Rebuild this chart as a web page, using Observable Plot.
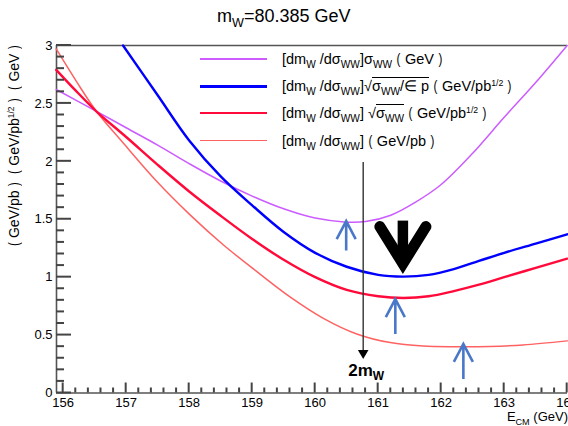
<!DOCTYPE html>
<html><head><meta charset="utf-8">
<script src="https://cdn.jsdelivr.net/npm/d3@7"></script>
<script src="https://cdn.jsdelivr.net/npm/@observablehq/plot@0.6"></script>
<style>
body{margin:0;background:#fff;}
#wrap{position:relative;width:568px;height:426px;overflow:hidden;font-family:"Liberation Sans",Arial,Helvetica,sans-serif;color:#000;}
#wrap svg{position:absolute;left:0;top:0;}
.ov{position:absolute;white-space:nowrap;}
sub{font-size:0.7em;vertical-align:-0.4em;line-height:0;}
sup{font-size:0.6em;vertical-align:0.6em;line-height:0;}
.sq{border-top:1px solid #000;}
.leg{position:absolute;left:282px;font-size:14.5px;line-height:20px;white-space:nowrap;}
.sw{position:absolute;left:200px;width:67px;}
</style></head><body><div id="wrap"></div>
<script>
// ---- data ----
const magE = [155.89,156.5,157.0,157.5,158.0,158.5,159.0,159.5,160.0,160.5,160.8,161.2,161.6,162.0,162.5,163.0,163.5,164.0];
const magV = [2.62,2.44,2.29,2.14,1.98,1.83,1.70,1.59,1.51,1.475,1.48,1.535,1.65,1.80,2.07,2.38,2.68,3.0];
const bluE = [156.95,157.5,158.0,158.5,159.0,159.5,160.0,160.5,161.0,161.4,161.8,162.2,162.6,163.0,163.5,164.0];
const bluV = [3.0,2.57,2.18,1.87,1.62,1.39,1.21,1.09,1.02,1.005,1.02,1.07,1.14,1.21,1.29,1.37];
const redE = [155.89,156.2,156.53,157.0,157.5,158.0,158.5,159.0,159.5,160.0,160.5,161.0,161.4,161.8,162.2,162.6,163.0,163.5,164.0];
const redV = [2.79,2.61,2.43,2.21,1.97,1.74,1.53,1.33,1.15,1.0,0.89,0.835,0.82,0.835,0.88,0.935,1.0,1.08,1.16];
const salE = [155.89,156.21,156.53,156.95,157.48,158.01,158.54,159.07,159.60,160.13,160.66,161.19,161.71,162.24,162.77,163.30,164.0];
const salV = [2.97,2.69,2.43,2.16,1.83,1.54,1.28,1.05,0.83,0.645,0.51,0.435,0.405,0.40,0.402,0.415,0.45];

const xTicks = [156,157,158,159,160,161,162,163,164];
const yTicks = [0,0.5,1,1.5,2,2.5,3];
const xMinorTicks = d3.range(0, 41).filter(i => i % 5).map(i => 156 + i * 0.2);
const yMinorTicks = d3.range(0, 31).filter(i => i % 5).map(i => i * 0.1);
const xMin = 155.894, xMax = 164.005;

const mW = 80.385;
const thresholdArrow = {E: 2*mW, top: 1.99, tip: 0.29};
const blueArrowE = [160.50, 161.28, 162.36];
const blueArrowTail = [1.225, 0.505, 0.117];
const blueArrowTip = [1.48, 0.807, 0.419];
const bigArrow = {E: 161.40, top: 1.484, tip: 1.018};

const colMag = "#cc5cff", colBlu = "#0000ff", colRed = "#ff0a3a", colSal = "#ff6262", colArr = "#4a78c8";

const mk = (E, V) => E.map((e, i) => ({E: e, v: V[i]}));

const W = 568, H = 426, mL = 56, mR = 1, mT = 45, mB = 33.5;

const NS = "http://www.w3.org/2000/svg";
function el(parent, tag, attrs) {
  const n = document.createElementNS(NS, tag);
  for (const k in attrs) n.setAttribute(k, attrs[k]);
  parent.appendChild(n);
  return n;
}

// inward ticks + annotations drawn with the plot's own scales
function extras(index, scales) {
  const x = scales.x, y = scales.y;
  const g = document.createElementNS(NS, "g");
  const y0 = y(0), xl = x(xMin);
  for (const t of xTicks) el(g, "path", {d: `M${x(t)},${y0}V${y0 - 10}`, stroke: "#444", "stroke-width": 2, fill: "none"});
  for (const t of xMinorTicks) el(g, "path", {d: `M${x(t)},${y0}V${y0 - 5}`, stroke: "#444", "stroke-width": 2, fill: "none"});
  for (const t of yTicks) el(g, "path", {d: `M${xl},${y(t)}H${xl + 15}`, stroke: "#444", "stroke-width": 2, fill: "none"});
  for (const t of yMinorTicks) el(g, "path", {d: `M${xl},${y(t)}H${xl + 8}`, stroke: "#444", "stroke-width": 2, fill: "none"});
  const tx = x(thresholdArrow.E), tyTop = y(thresholdArrow.top), tyTip = y(thresholdArrow.tip);
  el(g, "line", {x1: tx, x2: tx, y1: tyTop, y2: tyTip - 6, stroke: "#333", "stroke-width": 1.4});
  el(g, "path", {d: `M${tx-5.3},${tyTip-9}L${tx+5.3},${tyTip-9}L${tx},${tyTip}Z`, fill: "#000"});
  const lab = el(g, "text", {x: tx + 3, y: tyTip + 17, "text-anchor": "middle", "font-weight": "bold", "font-size": 17, fill: "#000"});
  el(lab, "tspan", {}).textContent = "2m";
  el(lab, "tspan", {"font-size": 12, dy: 4}).textContent = "W";
  blueArrowE.forEach((e, i) => {
    const ax = x(e), a0 = y(blueArrowTail[i]), a1 = y(blueArrowTip[i]);
    el(g, "path", {d: `M${ax},${a0}L${ax},${a1}M${ax-9.5},${a1+18}L${ax},${a1}L${ax+9.5},${a1+18}`,
      fill: "none", stroke: colArr, "stroke-width": 2.6});
  });
  const bx = x(bigArrow.E), bTop = y(bigArrow.top), bTip = y(bigArrow.tip);
  const cTip = bTip - 11;
  el(g, "line", {x1: bx, x2: bx, y1: bTop, y2: cTip - 4, stroke: "#000", "stroke-width": 10.5});
  el(g, "path", {d: `M${bx-23},${cTip-37}L${bx},${cTip}L${bx+23},${cTip-37}`, fill: "none", stroke: "#000",
    "stroke-width": 11, "stroke-linecap": "round", "stroke-linejoin": "miter", "stroke-miterlimit": 10});
  return g;
}

const chart = Plot.plot({
  width: W, height: H,
  marginLeft: mL, marginRight: mR, marginTop: mT, marginBottom: mB,
  x: {domain: [xMin, xMax], ticks: xTicks, tickFormat: d => String(d), tickSize: 0, tickPadding: 5, label: null},
  y: {domain: [0, 3], ticks: yTicks, tickFormat: d => String(d), tickSize: 0, tickPadding: 4, label: null},
  style: {fontSize: "13px", fontFamily: "Liberation Sans, Arial, sans-serif", background: "transparent", color: "#000", overflow: "visible"},
  marks: [
    Plot.ruleY([0, 3], {stroke: "#555", strokeWidth: 1.6}),
    Plot.ruleX([xMin], {stroke: "#555", strokeWidth: 1.6}),
    Plot.line(mk(magE, magV), {x: "E", y: "v", stroke: colMag, strokeWidth: 1.5, curve: "catmull-rom"}),
    Plot.line(mk(salE, salV), {x: "E", y: "v", stroke: colSal, strokeWidth: 1.5, curve: "catmull-rom"}),
    Plot.line(mk(redE, redV), {x: "E", y: "v", stroke: colRed, strokeWidth: 2.4, curve: "catmull-rom"}),
    Plot.line(mk(bluE, bluV), {x: "E", y: "v", stroke: colBlu, strokeWidth: 2.4, curve: "catmull-rom"}),
    extras
  ]
});

const wrap = document.getElementById("wrap");
wrap.appendChild(chart);

const P = (s) => `<span style="display:inline-block;transform:scaleX(0.8)">${s}</span>`;
const head = `[dm<sub>W</sub> /dσ<sub>WW</sub>]`;
const legendRows = [
  {y: 59, c: colMag, w: 1.5, t: `${head}σ<sub>WW</sub> ${P("(")} GeV ${P(")")}`},
  {y: 86.3, c: colBlu, w: 2.5, t: `${head}√<span class="sq">σ<sub>WW</sub>/∈ p</span> ${P("(")} GeV/pb<sup>1/2</sup> ${P(")")}`},
  {y: 113, c: colRed, w: 2.5, t: `${head} √<span class="sq">σ<sub>WW</sub></span> ${P("(")} GeV/pb<sup>1/2</sup> ${P(")")}`},
  {y: 140.7, c: colSal, w: 1.5, t: `${head} ${P("(")} GeV/pb ${P(")")}`}
];
let html = "";
for (const r of legendRows) {
  html += `<div class="sw" style="top:${r.y - r.w/2}px;height:${r.w}px;background:${r.c}"></div>`;
  html += `<div class="leg" style="top:${r.y - 10}px">${r.t}</div>`;
}
html += `<div class="ov" style="left:217px;top:7px;font-size:18px;line-height:18px">m<sub>W</sub>=80.385 GeV</div>`;
html += `<div class="ov" style="right:0;top:410px;font-size:13px;line-height:13px">E<sub>CM</sub> (GeV)</div>`;
html += `<div class="ov" style="left:14px;top:45px;font-size:14px;line-height:14px;transform-origin:0 0;transform:rotate(-90deg) translate(-100%,-50%)">${P("(")} GeV/pb ${P(")")}&nbsp;&nbsp;${P("(")} GeV/pb<sup>1/2</sup> ${P(")")}&nbsp;&nbsp;${P("(")} GeV ${P(")")}</div>`;
wrap.insertAdjacentHTML("beforeend", html);
</script></body></html>
